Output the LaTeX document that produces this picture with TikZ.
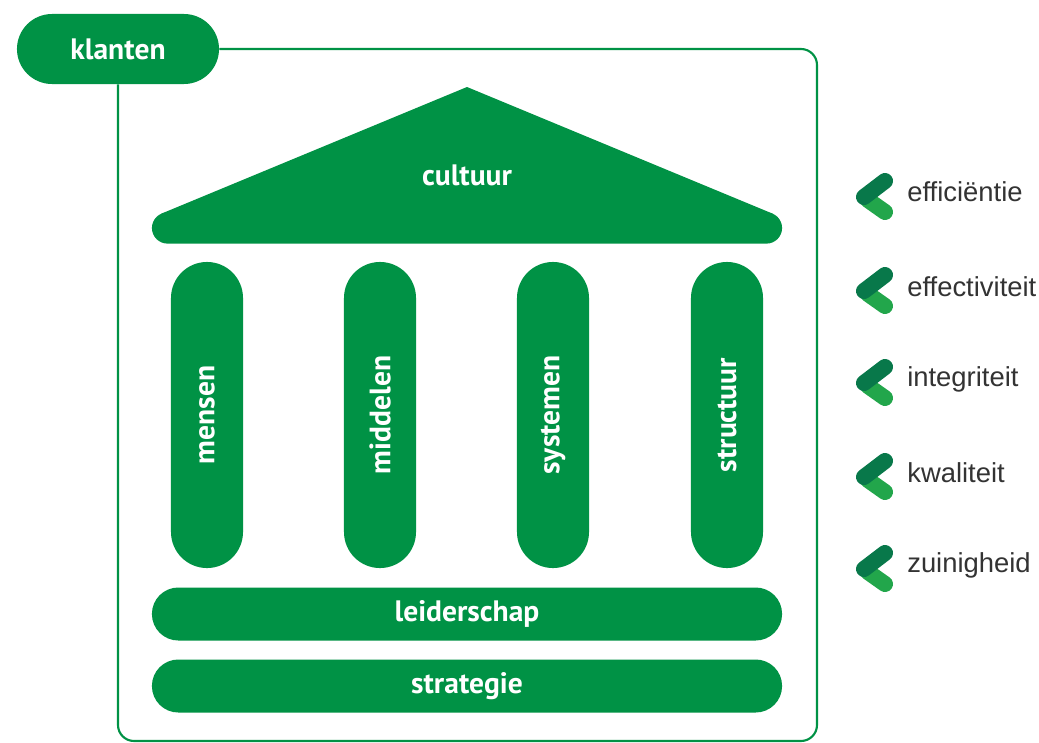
\documentclass[tikz,border=0pt]{standalone}
\usepackage{fontspec}
\setmainfont{PT Sans}
\newfontfamily\listfont{Liberation Sans}
\usetikzlibrary{positioning}
\definecolor{mkgreen}{HTML}{009245}
\definecolor{mkdark}{HTML}{08784A}
\definecolor{mklight}{HTML}{22A64B}
\definecolor{mktext}{HTML}{333333}
\tikzset{
  x=0.025cm,y=-0.025cm,
  pill/.style={fill=mkgreen,text=white,rounded corners=#1,inner sep=0pt,
    font=\fontsize{21}{24}\selectfont\bfseries},
  pillar/.style={pill=0.9cm,minimum width=1.8cm,minimum height=7.65cm},
  beam/.style={pill=0.66cm,minimum width=15.75cm,minimum height=1.325cm},
  frameline/.style={draw=mkgreen,line width=1.5pt,rounded corners=0.4cm},
  kpi/.style={anchor=west,text=mktext,inner sep=0pt,font=\listfont\fontsize{19.5}{24}\selectfont},
  chevron/.pic={
    \draw[mklight,line width=0.4cm,line cap=round] (-7,5) -- (10,17);
    \draw[mkdark,line width=0.4cm,line cap=round] (10,-14) -- (-11,2);
  }
}
\begin{document}
\begin{tikzpicture}
  \useasboundingbox[fill=white] (0,0) rectangle (1039,743);
  % customers and frame
  \node [pill=0.875cm,minimum width=5.05cm,minimum height=1.75cm] (klanten) at (118,49) {klanten};
  \draw [frameline] (klanten.east) -- (817,49) -- (817,741) -- (118,741) -- (klanten.south);
  % roof
  \node [pill=0.39cm,minimum width=15.75cm,minimum height=0.78cm] (roof) at (467,228) {};
  \fill [mkgreen] (161.5,213.6) -- (467,87) -- (772.5,213.6) -- (766.5,228) -- (167.5,228) -- cycle;
  \node [text=white,font=\fontsize{21}{24}\selectfont\bfseries] (cultuur) at (467,175) {cultuur};
  % pillars
  \begin{scope}[every node/.style={pillar}]
    \node (mensen)    at (207,415) {\rotatebox{90}{mensen}};
    \node (middelen)  at (380,415) {\rotatebox{90}{middelen}};
    \node (systemen)  at (553,415) {\rotatebox{90}{systemen}};
    \node (structuur) at (727,415) {\rotatebox{90}{structuur}};
  \end{scope}
  % base
  \node [beam] (leiderschap) at (467,614) {leiderschap};
  \node [beam] (strategie)   at (467,686) {strategie};
  % values
  \begin{scope}[every node/.style={kpi}]
    \path (875,195) pic {chevron} (907,192) node (efficientie) {efficiëntie};
    \path (875,289) pic {chevron} (907,287) node (effectiviteit) {effectiviteit};
    \path (875,381) pic {chevron} (907,379) node (integriteit) {integriteit};
    \path (875,475) pic {chevron} (907,473) node (kwaliteit) {kwaliteit};
    \path (875,567) pic {chevron} (907,565) node (zuinigheid) {zuinigheid};
  \end{scope}
\end{tikzpicture}
\end{document}
